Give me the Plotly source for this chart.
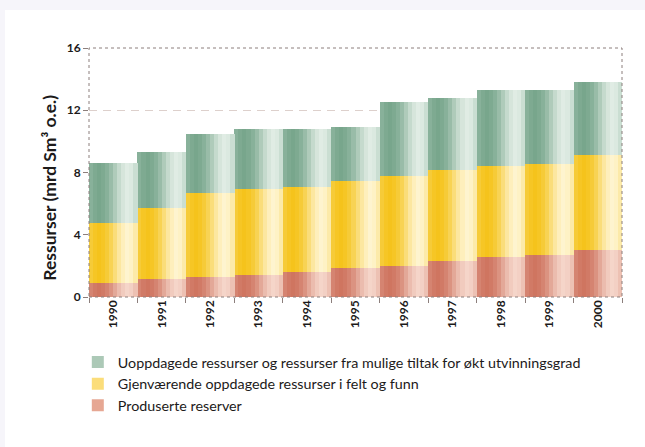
import plotly.graph_objects as go

# Norwegian petroleum resources, billion Sm3 oil equivalents
years = ["1990", "1991", "1992", "1993", "1994", "1995",
         "1996", "1997", "1998", "1999", "2000"]
produced = [0.9, 1.15, 1.3, 1.4, 1.6, 1.85, 2.0, 2.3, 2.55, 2.7, 3.0]
remaining = [3.85, 4.55, 5.4, 5.55, 5.5, 5.6, 5.8, 5.85, 5.85, 5.85, 6.1]
undiscovered = [3.85, 3.6, 3.8, 3.85, 3.7, 3.45, 4.7, 4.65, 4.9, 4.75, 4.7]

y_ticks = [0, 4, 8, 12, 16]

names = {
    "undiscovered": "Uoppdagede ressurser og ressurser fra mulige tiltak for økt utvinningsgrad",
    "remaining": "Gjenværende oppdagede ressurser i felt og funn",
    "produced": "Produserte reserver",
}

# dark / light ends of each cylinder-style gradient, plus a mid tone
palette = {
    "produced": ("#cf7560", "#f7dacf", "#e6a793"),
    "remaining": ("#f5c31c", "#fff7d8", "#fbdd7a"),
    "undiscovered": ("#78a68c", "#e6f0e9", "#acc9b7"),
}

# shading across each bar, left to right (0 = dark, 1 = light)
profile = [0.15, 0.05, 0.0, 0.05, 0.15, 0.3, 0.5, 0.7, 0.85, 0.95, 0.9, 0.75]


def mix(c1, c2, t):
    a = [int(c1[i:i + 2], 16) for i in (1, 3, 5)]
    b = [int(c2[i:i + 2], 16) for i in (1, 3, 5)]
    return "#" + "".join(f"{round(x + (y - x) * t):02x}" for x, y in zip(a, b))


base_remaining = produced
base_undiscovered = [p + r for p, r in zip(produced, remaining)]

series = [
    ("produced", produced, [0] * len(years), 3),
    ("remaining", remaining, base_remaining, 2),
    ("undiscovered", undiscovered, base_undiscovered, 1),
]

fig = go.Figure()
n = len(profile)
for key, vals, base, rank in series:
    dark, light, mid = palette[key]
    # full-width bar in the mid tone (also carries the legend entry)
    fig.add_trace(go.Bar(
        x=years, y=vals, base=base, width=1.0, offset=-0.5,
        marker=dict(color=mid, line=dict(width=0)),
        name=names[key], legendrank=rank, legendgroup=key,
        showlegend=True, hoverinfo="skip",
    ))
    # narrow strips giving the shaded, rounded look
    for k, t in enumerate(profile):
        fig.add_trace(go.Bar(
            x=years, y=vals, base=base, width=1.0 / n + 0.004,
            offset=-0.5 + k / n,
            marker=dict(color=mix(dark, light, t), line=dict(width=0)),
            showlegend=False, hoverinfo="skip",
        ))

frame_col = "#8c7f7c"
text_col = "#1c1a1a"
page_col = "#f6f5fa"

fig.update_layout(
    width=645, height=447,
    margin=dict(l=89, r=23, t=48, b=150),
    barmode="overlay",
    bargap=0,
    paper_bgcolor="white",
    plot_bgcolor="white",
    font=dict(family="Lato", color=text_col, size=11),
    showlegend=True,
    legend=dict(
        x=-0.021, y=-0.198, xanchor="left", yanchor="top",
        orientation="v", bgcolor="rgba(0,0,0,0)",
        font=dict(family="Lato", size=14.3, color=text_col),
        tracegroupgap=0, itemwidth=30,
    ),
    xaxis=dict(
        type="category", range=[-0.5, 10.5],
        showline=False, showgrid=False, zeroline=False,
        ticks="outside", tickson="boundaries", ticklen=5,
        tickcolor=frame_col, tickwidth=1, tickangle=-90,
        tickfont=dict(family="Lato", size=12, color=text_col, weight="bold"),
    ),
    yaxis=dict(
        range=[0, 16], tickvals=y_ticks,
        showline=False, zeroline=False,
        showgrid=True, gridcolor="#ddd0cc", griddash="8px,6px", gridwidth=1,
        ticks="outside", ticklen=5, tickcolor=frame_col, tickwidth=1,
        tickfont=dict(family="Lato", size=12, color=text_col, weight="bold"),
    ),
    shapes=[
        # lavender page strips along the top and left edges
        dict(type="rect", xref="paper", yref="paper",
             x0=-0.3, x1=1.2, y0=1.1526, y1=1.4,
             fillcolor=page_col, line=dict(width=0), layer="below"),
        dict(type="rect", xref="paper", yref="paper",
             x0=-0.3, x1=-0.1576, y0=-0.8, y1=1.4,
             fillcolor=page_col, line=dict(width=0), layer="below"),
        # dotted frame around the plot area
        dict(type="rect", xref="paper", yref="paper",
             x0=0, x1=1, y0=0, y1=1,
             line=dict(color=frame_col, width=1, dash="dot"),
             fillcolor="rgba(0,0,0,0)", layer="above"),
    ],
    annotations=[
        dict(text="Ressurser (mrd Sm³ o.e.)", textangle=-90,
             xref="paper", yref="paper", x=-0.098, y=0.44,
             showarrow=False,
             font=dict(family="Lato", size=17.5, color=text_col, weight="bold")),
    ],
)

fig.write_html(
    "out.html",
    config={"displayModeBar": False},
    post_script=(
        "document.documentElement.style.overflow='hidden';"
        "document.body.style.overflow='hidden';"
        "document.body.style.margin='0';"
    ),
)
